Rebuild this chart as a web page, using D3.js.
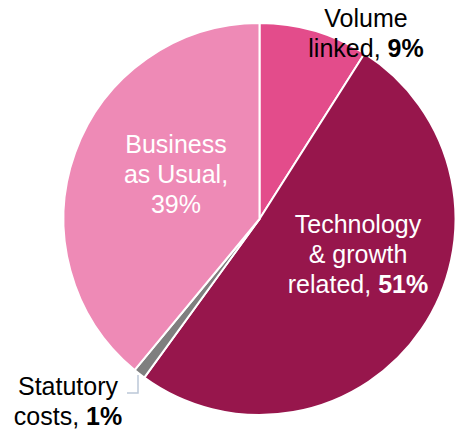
<!DOCTYPE html>
<html>
<head>
<meta charset="utf-8">
<script src="https://cdn.jsdelivr.net/npm/d3@7"></script>
<style>
  body { margin: 0; background: #fff; }
  svg { display: block; font-family: "Liberation Sans", Arial, sans-serif; }
</style>
</head>
<body>
<div id="chart"></div>
<script>
const categories = ["Volume linked", "Technology & growth related", "Statutory costs", "Business as Usual"];
const values = [9, 51, 1, 39];
const colors = ["#E34C8B", "#97164C", "#7F7F7F", "#EE8AB6"];

const width = 455, height = 434;
const cx = 259.5, cy = 219, radius = 196;

const svg = d3.select("#chart").append("svg")
  .attr("width", width)
  .attr("height", height);

const pie = d3.pie().sort(null).value(d => d.value);
const arc = d3.arc().innerRadius(0).outerRadius(radius);

const data = categories.map((c, i) => ({ name: c, value: values[i], color: colors[i] }));

const g = svg.append("g").attr("transform", `translate(${cx},${cy})`);

g.selectAll("path")
  .data(pie(data))
  .enter()
  .append("path")
  .attr("d", arc)
  .attr("fill", d => d.data.color)
  .attr("stroke", "#fff")
  .attr("stroke-width", 2)
  .attr("stroke-linejoin", "round");

// leader line for the tiny statutory slice
svg.append("polyline")
  .attr("points", "138,375 138,393 127,393")
  .attr("fill", "none")
  .attr("stroke", "#BCC8D8")
  .attr("stroke-width", 1.5);

// labels: lines of [text, bold] pieces
const labels = [
  { x: 366, y: 27, fill: "#000", lines: [[["Volume", false]], [["linked, ", false], ["9%", true]]] },
  { x: 358, y: 233, fill: "#fff", lines: [[["Technology", false]], [["& growth", false]], [["related, ", false], ["51%", true]]] },
  { x: 68, y: 395, fill: "#000", lines: [[["Statutory", false]], [["costs, ", false], ["1%", true]]] },
  { x: 176, y: 153, fill: "#fff", lines: [[["Business", false]], [["as Usual,", false]], [["39%", false]]] }
];

labels.forEach(l => {
  const t = svg.append("text")
    .attr("text-anchor", "middle")
    .attr("font-size", 25)
    .attr("fill", l.fill);
  l.lines.forEach((line, i) => {
    line.forEach((part, j) => {
      const ts = t.append("tspan")
        .attr("font-weight", part[1] ? "bold" : "normal")
        .text(part[0]);
      if (j === 0) ts.attr("x", l.x).attr("y", l.y + i * 30);
    });
  });
});
</script>
</body>
</html>
